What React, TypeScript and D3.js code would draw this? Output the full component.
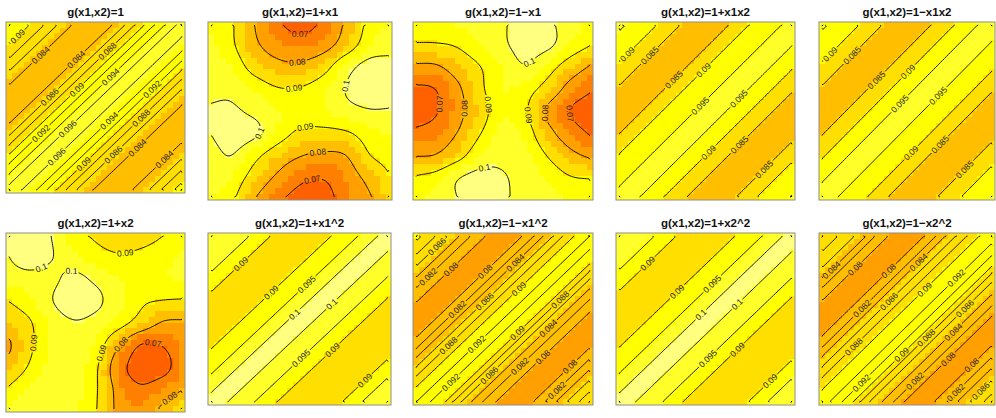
import { useEffect, useRef } from 'react'
import * as d3 from 'd3'

// panel titles, top row then bottom row
const TITLES = [
  'g(x1,x2)=1', 'g(x1,x2)=1+x1', 'g(x1,x2)=1\u2212x1', 'g(x1,x2)=1+x1x2', 'g(x1,x2)=1\u2212x1x2',
  'g(x1,x2)=1+x2', 'g(x1,x2)=1+x1^2', 'g(x1,x2)=1\u2212x1^2', 'g(x1,x2)=1+x2^2', 'g(x1,x2)=1\u2212x2^2',
]

// contour levels
const LEVELS_FINE = [0.076, 0.078, 0.08, 0.082, 0.084, 0.086, 0.088, 0.09, 0.092, 0.094, 0.096, 0.098, 0.1]
const LEVELS_MID = [0.075, 0.08, 0.085, 0.09, 0.095, 0.1, 0.105]
const LEVELS_COARSE = [0.07, 0.08, 0.09, 0.1, 0.11]

// image colour bins (heat colours)
const COLOR_BREAKS = [0.065, 0.07, 0.075, 0.08, 0.085, 0.09, 0.095, 0.1]
const COLOR_BINS = ['#FF4000', '#FF6000', '#FF8000', '#FF9F00', '#FFBF00', '#FFDF00', '#FFFF00', '#FFFF2A', '#FFFF80']

// stripe panels: values across the diagonal, top-left corner -> bottom-right corner (17 steps)
const G_ONE = [0.0925, 0.0905, 0.0875, 0.0842, 0.0829, 0.0843, 0.0885, 0.0930, 0.0965, 0.0948, 0.0905, 0.0860, 0.0836, 0.0833, 0.0852, 0.0888, 0.0920]
const G_PLUS_X1X2 = [0.0968, 0.0935, 0.0898, 0.0850, 0.0832, 0.0843, 0.0897, 0.0930, 0.0962, 0.0948, 0.0900, 0.0851, 0.0830, 0.0840, 0.0893, 0.0930, 0.0962]
const G_MINUS_X1X2 = [0.0965, 0.0935, 0.0898, 0.0850, 0.0834, 0.0843, 0.0885, 0.0938, 0.0962, 0.0942, 0.0903, 0.0850, 0.0832, 0.0842, 0.0885, 0.0930, 0.0958]
const G_PLUS_X1SQ = [0.1005, 0.0975, 0.0948, 0.0895, 0.0878, 0.0885, 0.0918, 0.0965, 0.1018, 0.0988, 0.0945, 0.0895, 0.0872, 0.0880, 0.0912, 0.0975, 0.1002]
const G_MINUS_X1SQ = [0.0915, 0.0885, 0.0848, 0.0810, 0.0790, 0.0800, 0.0843, 0.0888, 0.0920, 0.0912, 0.0860, 0.0818, 0.0790, 0.0795, 0.0832, 0.0872, 0.0905]
const G_PLUS_X2SQ = [0.1006, 0.0972, 0.0945, 0.0893, 0.0876, 0.0887, 0.0920, 0.0966, 0.1015, 0.0990, 0.0947, 0.0893, 0.0870, 0.0878, 0.0910, 0.0972, 0.1002]
const G_MINUS_X2SQ = [0.0905, 0.0880, 0.0852, 0.0808, 0.0790, 0.0802, 0.0845, 0.0885, 0.0915, 0.0918, 0.0866, 0.0830, 0.0793, 0.0798, 0.0835, 0.0870, 0.0898]

// blob panels: 9x9 readings, rows top -> bottom, columns left -> right
const G_PLUS_X1 = [
  [0.0940, 0.0910, 0.0800, 0.0712, 0.0660, 0.0715, 0.0810, 0.0915, 0.0950],
  [0.0970, 0.0915, 0.0818, 0.0760, 0.0735, 0.0760, 0.0845, 0.0945, 0.0985],
  [0.0985, 0.0950, 0.0870, 0.0825, 0.0818, 0.0865, 0.0965, 0.1025, 0.1015],
  [0.0985, 0.0985, 0.0945, 0.0905, 0.0905, 0.0940, 0.1002, 0.1035, 0.1025],
  [0.1005, 0.1010, 0.0985, 0.0950, 0.0935, 0.0945, 0.0975, 0.0995, 0.0995],
  [0.0995, 0.1035, 0.1015, 0.0940, 0.0885, 0.0878, 0.0890, 0.0935, 0.0955],
  [0.0965, 0.1000, 0.0925, 0.0855, 0.0805, 0.0785, 0.0800, 0.0895, 0.0935],
  [0.0975, 0.0950, 0.0865, 0.0785, 0.0720, 0.0705, 0.0755, 0.0825, 0.0905],
  [0.0955, 0.0915, 0.0800, 0.0715, 0.0665, 0.0665, 0.0735, 0.0785, 0.0885],
]
const G_MINUS_X1 = [
  [0.0930, 0.0950, 0.0960, 0.0980, 0.0995, 0.1025, 0.1012, 0.0970, 0.0940],
  [0.0895, 0.0895, 0.0910, 0.0955, 0.0990, 0.1025, 0.1015, 0.0950, 0.0898],
  [0.0785, 0.0790, 0.0845, 0.0900, 0.0955, 0.0995, 0.0935, 0.0855, 0.0785],
  [0.0685, 0.0702, 0.0785, 0.0885, 0.0950, 0.0930, 0.0865, 0.0765, 0.0705],
  [0.0660, 0.0692, 0.0775, 0.0865, 0.0945, 0.0910, 0.0785, 0.0698, 0.0655],
  [0.0715, 0.0740, 0.0805, 0.0898, 0.0965, 0.0935, 0.0830, 0.0745, 0.0685],
  [0.0795, 0.0805, 0.0870, 0.0955, 0.0985, 0.0965, 0.0895, 0.0825, 0.0780],
  [0.0905, 0.0930, 0.0995, 0.1025, 0.1005, 0.0980, 0.0945, 0.0905, 0.0895],
  [0.0940, 0.0965, 0.1002, 0.1035, 0.1008, 0.0985, 0.0965, 0.0950, 0.0935],
]
const G_PLUS_X2 = [
  [0.1005, 0.1035, 0.1000, 0.0925, 0.0885, 0.0858, 0.0868, 0.0895, 0.0935],
  [0.0995, 0.1035, 0.1005, 0.0960, 0.0925, 0.0905, 0.0912, 0.0930, 0.0960],
  [0.0965, 0.0980, 0.0985, 0.1015, 0.0985, 0.0950, 0.0940, 0.0945, 0.0955],
  [0.0898, 0.0940, 0.0995, 0.1040, 0.1015, 0.0965, 0.0915, 0.0900, 0.0895],
  [0.0845, 0.0890, 0.0960, 0.0995, 0.0980, 0.0935, 0.0865, 0.0795, 0.0790],
  [0.0775, 0.0880, 0.0955, 0.0975, 0.0945, 0.0815, 0.0700, 0.0705, 0.0775],
  [0.0825, 0.0905, 0.0965, 0.0970, 0.0915, 0.0745, 0.0662, 0.0672, 0.0765],
  [0.0905, 0.0960, 0.0975, 0.0965, 0.0910, 0.0775, 0.0715, 0.0755, 0.0805],
  [0.0965, 0.1005, 0.0985, 0.0960, 0.0905, 0.0785, 0.0765, 0.0825, 0.0915],
]

// plot boxes in page pixels
const BOXES = [
  { x: 6, y: 22, w: 179, h: 171 },
  { x: 208, y: 22, w: 184, h: 178 },
  { x: 413, y: 22, w: 180, h: 178 },
  { x: 616, y: 22, w: 179, h: 178 },
  { x: 819, y: 22, w: 176, h: 178 },
  { x: 6, y: 233, w: 179, h: 179 },
  { x: 208, y: 233, w: 183, h: 172 },
  { x: 413, y: 233, w: 180, h: 172 },
  { x: 616, y: 233, w: 179, h: 172 },
  { x: 819, y: 233, w: 176, h: 172 },
]
const TITLE_Y = [16, 226.5]

const RES = 30 // image cells per side
const N = 80 // contour sampling per side
const FS = 8.5
const FONT = '"Liberation Sans", Arial, Helvetica, sans-serif'

type Panel = { profile?: number[]; grid?: number[][]; levels: number[] }
const PANELS: Panel[] = [
  { profile: G_ONE, levels: LEVELS_FINE },
  { grid: G_PLUS_X1, levels: LEVELS_COARSE },
  { grid: G_MINUS_X1, levels: LEVELS_COARSE },
  { profile: G_PLUS_X1X2, levels: LEVELS_MID },
  { profile: G_MINUS_X1X2, levels: LEVELS_MID },
  { grid: G_PLUS_X2, levels: LEVELS_COARSE },
  { profile: G_PLUS_X1SQ, levels: LEVELS_MID },
  { profile: G_MINUS_X1SQ, levels: LEVELS_FINE },
  { profile: G_PLUS_X2SQ, levels: LEVELS_MID },
  { profile: G_MINUS_X2SQ, levels: LEVELS_FINE },
]

// catmull-rom resampling of the readings (display smoothing)
const cr = (p0: number, p1: number, p2: number, p3: number, t: number) =>
  0.5 * (2 * p1 + (-p0 + p2) * t + (2 * p0 - 5 * p1 + 4 * p2 - p3) * t * t + (-p0 + 3 * p1 - 3 * p2 + p3) * t * t * t)

function sample1d(arr: number[], u: number) {
  const n = arr.length - 1
  const i = Math.min(n - 1, Math.max(0, Math.floor(u)))
  const t = u - i
  const at = (k: number) => (k < 0 ? 2 * arr[0] - arr[1] : k > n ? 2 * arr[n] - arr[n - 1] : arr[k])
  return cr(at(i - 1), at(i), at(i + 1), at(i + 2), t)
}

function sampleGrid(grid: number[][], px: number, py: number) {
  const n = grid.length - 1
  const gy = (1 - py) * n
  const iy = Math.min(n - 1, Math.max(0, Math.floor(gy)))
  const row = (r: number) => sample1d(grid[Math.min(n, Math.max(0, r))], px * n)
  const rv = (r: number) => (r < 0 ? 2 * row(0) - row(1) : r > n ? 2 * row(n) - row(n - 1) : row(r))
  return cr(rv(iy - 1), rv(iy), rv(iy + 1), rv(iy + 2), gy - iy)
}

function fieldOf(p: Panel) {
  if (p.profile) {
    const prof = p.profile
    const m = (prof.length - 1) / 2
    return (px: number, py: number) => sample1d(prof, (px - py + 1) * m)
  }
  const grid = p.grid as number[][]
  return (px: number, py: number) => sampleGrid(grid, px, py)
}

const fmt = (v: number) => String(+v.toFixed(3))
const textW = (s: string) => s.split('').reduce((a, ch) => a + (ch === '.' ? 0.278 : 0.556), 0) * FS

type Pt = [number, number]

// break a closed contour ring into the parts that are not on the grid border
function splitRing(ring: Pt[]): Pt[][] {
  const eps = 1e-7
  const pts = ring.slice(0, -1)
  const n = pts.length
  if (n < 2) return []
  const border = (a: Pt, b: Pt) =>
    (a[0] <= eps && b[0] <= eps) || (a[0] >= N - eps && b[0] >= N - eps) ||
    (a[1] <= eps && b[1] <= eps) || (a[1] >= N - eps && b[1] >= N - eps)
  const isB = (i: number) => border(pts[i], pts[(i + 1) % n])
  let start = -1
  for (let i = 0; i < n; i++) if (isB(i)) { start = i; break }
  if (start < 0) return [[...pts, pts[0]]]
  const out: Pt[][] = []
  let cur: Pt[] = []
  for (let k = 1; k <= n; k++) {
    const i = (start + k) % n
    if (isB(i)) {
      if (cur.length > 1) out.push(cur)
      cur = []
    } else {
      if (!cur.length) cur.push(pts[i])
      cur.push(pts[(i + 1) % n])
    }
  }
  if (cur.length > 1) out.push(cur)
  return out
}

function cumLen(pts: Pt[]) {
  const c = [0]
  for (let i = 1; i < pts.length; i++) c.push(c[i - 1] + Math.hypot(pts[i][0] - pts[i - 1][0], pts[i][1] - pts[i - 1][1]))
  return c
}
function pointAt(pts: Pt[], cum: number[], s: number): Pt {
  let k = 0
  while (k < cum.length - 2 && cum[k + 1] < s) k++
  const seg = cum[k + 1] - cum[k] || 1
  const t = Math.max(0, Math.min(1, (s - cum[k]) / seg))
  return [pts[k][0] + (pts[k + 1][0] - pts[k][0]) * t, pts[k][1] + (pts[k + 1][1] - pts[k][1]) * t]
}
function slicePts(pts: Pt[], cum: number[], s0: number, s1: number): Pt[] {
  const out: Pt[] = [pointAt(pts, cum, s0)]
  for (let k = 0; k < pts.length; k++) if (cum[k] > s0 && cum[k] < s1) out.push(pts[k])
  out.push(pointAt(pts, cum, s1))
  return out
}

const FRACS = [0.5, 0.35, 0.65, 0.22, 0.78, 0.42, 0.58, 0.28, 0.72, 0.13, 0.87]

export default function App() {
  const svgRef = useRef<SVGSVGElement>(null)

  useEffect(() => {
    if (!svgRef.current) return
    const svg = d3.select(svgRef.current)
    svg.selectAll('*').remove()
    const color = d3.scaleThreshold<number, string>().domain(COLOR_BREAKS).range(COLOR_BINS)
    const line = d3.line<Pt>().x((d) => d[0]).y((d) => d[1])

    PANELS.forEach((panel, k) => {
      const box = BOXES[k]
      const g = svg.append('g')
      const field = fieldOf(panel)

      // image cells
      const xs = d3.scaleLinear().domain([0, RES]).range([box.x, box.x + box.w])
      const ys = d3.scaleLinear().domain([0, RES]).range([box.y, box.y + box.h])
      const cells: { i: number; j: number; v: number }[] = []
      for (let j = 0; j < RES; j++) for (let i = 0; i < RES; i++) {
        cells.push({ i, j, v: field((i + 0.5) / RES, 1 - (j + 0.5) / RES) })
      }
      g.append('g').attr('shape-rendering', 'crispEdges')
        .selectAll('rect').data(cells).join('rect')
        .attr('x', (d) => Math.round(xs(d.i)))
        .attr('y', (d) => Math.round(ys(d.j)))
        .attr('width', (d) => Math.round(xs(d.i + 1)) - Math.round(xs(d.i)))
        .attr('height', (d) => Math.round(ys(d.j + 1)) - Math.round(ys(d.j)))
        .attr('fill', (d) => color(d.v))

      // contours over the cell-centre extent
      const hx = box.w / (2 * RES)
      const hy = box.h / (2 * RES)
      const cx = d3.scaleLinear().domain([0, N]).range([box.x + hx, box.x + box.w - hx])
      const cy = d3.scaleLinear().domain([0, N]).range([box.y + hy, box.y + box.h - hy])
      const values = new Array(N * N)
      for (let j = 0; j < N; j++) for (let i = 0; i < N; i++) {
        const X = cx(i + 0.5)
        const Y = cy(j + 0.5)
        values[j * N + i] = field((X - box.x) / box.w, 1 - (Y - box.y) / box.h)
      }
      const contours = d3.contours().size([N, N]).thresholds(panel.levels)(values)

      const placed: { x0: number; y0: number; x1: number; y1: number }[] = []
      const lg = g.append('g')
      contours.forEach((c) => {
        const label = fmt(c.value)
        const tw = textW(label)
        const gap = tw + 3
        c.coordinates.forEach((poly) => poly.forEach((ring) => {
          splitRing(ring as Pt[]).forEach((piece) => {
            const pts = piece.map((p) => [cx(p[0]), cy(p[1])] as Pt)
            const cum = cumLen(pts)
            const L = cum[cum.length - 1]
            let chosen: { s: number; ang: number; at: Pt } | null = null
            if (L > gap + 4) {
              for (const f of FRACS) {
                const s = f * L
                if (s - gap / 2 < 1 || s + gap / 2 > L - 1) continue
                const a = pointAt(pts, cum, s - gap / 2)
                const b = pointAt(pts, cum, s + gap / 2)
                const at = pointAt(pts, cum, s)
                let ang = (Math.atan2(b[1] - a[1], b[0] - a[0]) * 180) / Math.PI
                if (ang >= 89) ang -= 180
                if (ang < -91) ang += 180
                const rad = (ang * Math.PI) / 180
                const w = tw + 2
                const h = FS
                const hw = (Math.abs(Math.cos(rad)) * w + Math.abs(Math.sin(rad)) * h) / 2
                const hh = (Math.abs(Math.sin(rad)) * w + Math.abs(Math.cos(rad)) * h) / 2
                const bb = { x0: at[0] - hw, y0: at[1] - hh, x1: at[0] + hw, y1: at[1] + hh }
                if (bb.x0 < box.x + 1 || bb.x1 > box.x + box.w - 1 || bb.y0 < box.y + 1 || bb.y1 > box.y + box.h - 1) continue
                if (placed.some((q) => bb.x0 < q.x1 + 1 && bb.x1 > q.x0 - 1 && bb.y0 < q.y1 + 1 && bb.y1 > q.y0 - 1)) continue
                placed.push(bb)
                chosen = { s, ang, at }
                break
              }
            }
            const parts = chosen
              ? [slicePts(pts, cum, 0, chosen.s - gap / 2), slicePts(pts, cum, chosen.s + gap / 2, L)]
              : [pts]
            parts.forEach((p) => {
              lg.append('path').attr('d', line(p)).attr('fill', 'none')
                .attr('stroke', '#000').attr('stroke-width', 0.9)
            })
            if (chosen) {
              lg.append('text')
                .attr('transform', `translate(${chosen.at[0]},${chosen.at[1]}) rotate(${chosen.ang})`)
                .attr('text-anchor', 'middle')
                .attr('dominant-baseline', 'central')
                .attr('font-family', FONT)
                .attr('font-size', FS)
                .attr('fill', '#222')
                .text(label)
            }
          })
        }))
      })

      g.append('rect')
        .attr('x', box.x).attr('y', box.y).attr('width', box.w).attr('height', box.h)
        .attr('fill', 'none').attr('stroke', '#8c8c8c').attr('stroke-width', 1)

      g.append('text')
        .attr('x', box.x + box.w / 2)
        .attr('y', TITLE_Y[k < 5 ? 0 : 1])
        .attr('text-anchor', 'middle')
        .attr('font-family', FONT)
        .attr('font-weight', 'bold')
        .attr('font-size', 11.5)
        .attr('fill', '#111')
        .text(TITLES[k])
    })
  }, [])

  return (
    <svg
      ref={svgRef}
      width={996}
      height={418}
      style={{ position: 'absolute', left: 0, top: 0, background: '#fff', display: 'block' }}
    />
  )
}
